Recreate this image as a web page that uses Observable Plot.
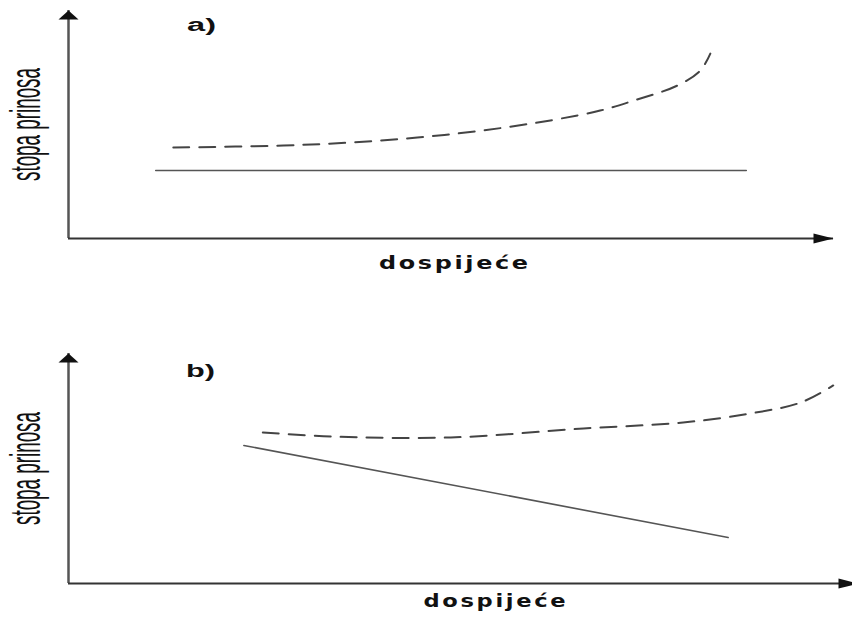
<!DOCTYPE html>
<html><head><meta charset="utf-8">
<script src="https://cdn.jsdelivr.net/npm/d3@7"></script>
<script src="https://cdn.jsdelivr.net/npm/@observablehq/plot@0.6"></script>
<style>body{margin:0;background:#fff} #chart svg{display:block}</style>
</head><body><div id="chart"></div>
<script>
// ---------- data (maturity 0-100 vs. yield 0-100, schematic) ----------
// panel a)
const aSolidX = [11.4, 88.6];
const aSolidY = [29.8, 29.8];
const aDashX = [13.7, 28.1, 36.9, 45.6, 54.2, 63.0, 69.5, 73.9, 79.6, 82.6, 83.9];
const aDashY = [39.9, 40.8, 42.1, 44.3, 47.4, 51.8, 56.1, 60.5, 67.1, 73.7, 81.1];
// panel b)
const bSolidX = [22.2, 83.5];
const bSolidY = [60.0, 20.0];
const bDashX = [24.6, 33.2, 48.4, 65.2, 77.8, 86.3, 92.7, 96.8];
const bDashY = [65.7, 63.9, 63.5, 67.4, 70.0, 73.9, 78.7, 86.1];
// labels
const panelLabels = ["a)", "b)"];
const panelLabelX = [17.4, 16.7];
const panelLabelY = [91.2, 89.6];
const xTitle = "dospijeće";
const xTitleX = [50.5, 54.1];
const xTitleY = [-13.2, -10.0];
const yTitle = "stopa prinosa";
const xDomain = [0, 100];
const yDomain = [0, 100];

// ---------- rendering ----------
const headUp = {draw(c){ c.moveTo(0,0); c.lineTo(10,9); c.lineTo(-10,9); c.closePath(); }};
const headRight = {draw(c){ c.moveTo(0,0); c.lineTo(-20,-5); c.lineTo(-20,5); c.closePath(); }};
const pts = (xs, ys) => xs.map((x, i) => ({x, y: ys[i]}));

function panel(i, solidX, solidY, dashX, dashY, dims) {
  const svg = Plot.plot({
    width: 852, height: dims.height,
    marginLeft: 68, marginRight: dims.mr, marginTop: dims.mt, marginBottom: dims.mb,
    x: {domain: xDomain, axis: null},
    y: {domain: yDomain, axis: null},
    style: {background: "white"},
    marks: [
      Plot.ruleX([0], {x: xDomain[0], y1: yDomain[0], y2: yDomain[1], stroke: "#555", strokeWidth: 2.5}),
      Plot.ruleY([0], {y: yDomain[0], x1: xDomain[0], x2: xDomain[1], stroke: "#333", strokeWidth: 2}),
      Plot.dot([0], {x: xDomain[0], y: yDomain[1], symbol: headUp, fill: "#111", stroke: null, r: 5}),
      Plot.dot([0], {x: xDomain[1], y: yDomain[0], symbol: headRight, fill: "#111", stroke: null, r: 5}),
      Plot.line(pts(solidX, solidY), {x: "x", y: "y", stroke: "#555", strokeWidth: 1.6}),
      Plot.line(pts(dashX, dashY), {x: "x", y: "y", curve: "catmull-rom", stroke: "#444", strokeWidth: 2, strokeDasharray: "16,10"}),
      Plot.text([panelLabels[i]], {x: panelLabelX[i], y: panelLabelY[i], text: d => d, lineAnchor: "bottom",
        fontFamily: "Liberation Sans, Arial, sans-serif", fontWeight: "bold", fontSize: 18, fill: "#111"}),
      Plot.text([xTitle], {x: xTitleX[i], y: xTitleY[i], text: d => d, lineAnchor: "bottom",
        fontFamily: "DejaVu Sans, sans-serif", fontWeight: "bold", fontSize: dims.fx, fill: "#111"}),
      Plot.text([yTitle], {frameAnchor: "left", dx: -29, rotate: -90, textAnchor: "middle", text: d => d, lineAnchor: "bottom",
        fontFamily: "Liberation Sans, Arial, sans-serif", fontSize: 42, fill: "#111"})
    ]
  });
  const lengths = {[panelLabels[i]]: 29, [yTitle]: 113};
  svg.querySelectorAll("text").forEach(t => {
    const L = lengths[t.textContent];
    if (t.textContent === xTitle) {
      t.setAttribute("letter-spacing", "2");
      const x = +t.getAttribute("x") || 0, y = +t.getAttribute("y") || 0;
      const tr = t.getAttribute("transform") || "";
      t.removeAttribute("x"); t.removeAttribute("y");
      t.setAttribute("transform", `${tr} translate(${x},${y}) scale(1.33,1)`);
    }
    if (L) { t.setAttribute("textLength", L); t.setAttribute("lengthAdjust", "spacingAndGlyphs"); }
  });
  return svg;
}

const root = document.getElementById("chart");
root.appendChild(panel(0, aSolidX, aSolidY, aDashX, aDashY, {height: 300, mr: 19, mt: 10, mb: 62, fx: 18}));
root.appendChild(panel(1, bSolidX, bSolidY, bDashX, bDashY, {height: 319, mr: -6, mt: 53, mb: 36, fx: 17}));
</script>
</body></html>
